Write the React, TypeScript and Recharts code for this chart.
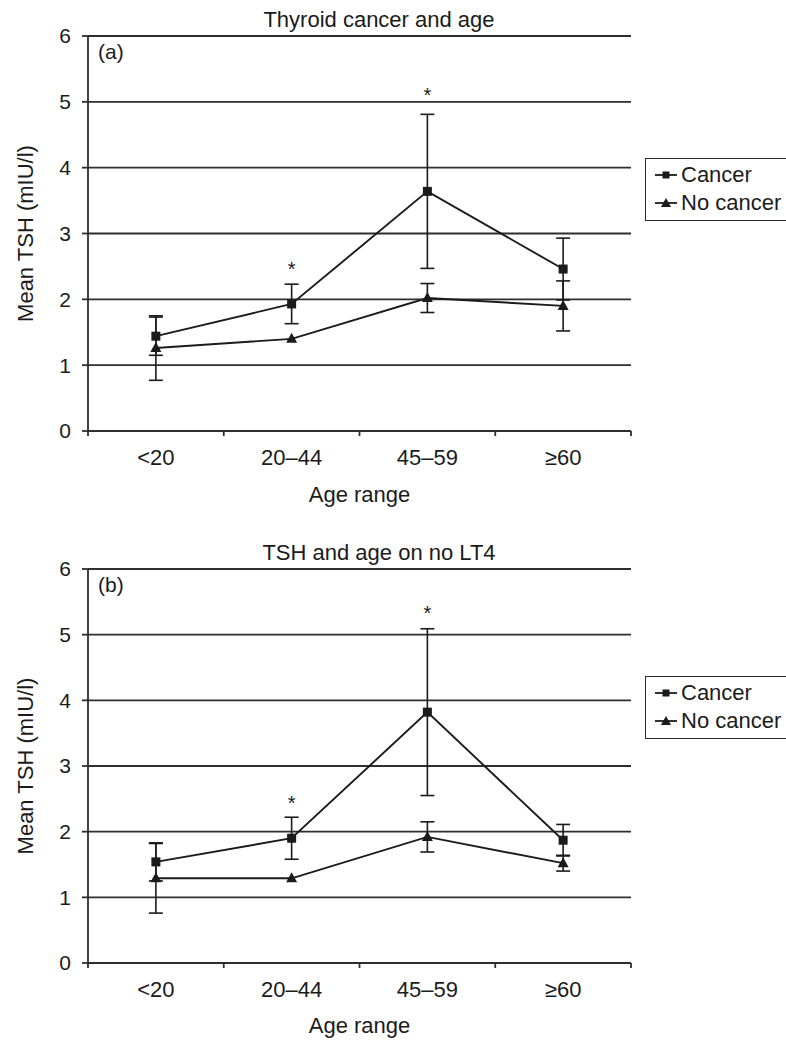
import React from "react";
import { CartesianGrid, ComposedChart, ErrorBar, Legend, Line, XAxis, YAxis } from "recharts";

const FONT = '"Liberation Sans", Arial, Helvetica, sans-serif';
const INK = "#1b1b1b";
const RULE = "#2e2e2e";

const ageRanges = ["<20", "20–44", "45–59", "≥60"];
const tshTicks = [0, 1, 2, 3, 4, 5, 6];

// (a) Thyroid cancer and age
const cancerA = [1.44, 1.93, 3.64, 2.46];
const cancerErrA = [0.29, 0.3, 1.17, 0.47];
const noCancerA = [1.26, 1.4, 2.02, 1.9];
const noCancerErrA = [0.49, 0, 0.22, 0.38];
const starA = [null, 2.52, 5.16, null];

// (b) TSH and age on no LT4
const cancerB = [1.54, 1.9, 3.82, 1.87];
const cancerErrB = [0.29, 0.32, 1.27, 0.24];
const noCancerB = [1.29, 1.29, 1.92, 1.52];
const noCancerErrB = [0.53, 0, 0.23, 0.12];
const starB = [null, 2.5, 5.39, null];

const PLOT_W = 543;
const BAND = PLOT_W / ageRanges.length;
const X_TICK_SIZE = 5;
const X_TICK_MARGIN = 13;

function buildRows(cancer: number[], cancerErr: number[], noCancer: number[], noCancerErr: number[], star: (number | null)[]) {
  return ageRanges.map((age, i) => ({
    age,
    cancer: cancer[i],
    cancerErr: cancerErr[i],
    noCancer: noCancer[i],
    noCancerErr: noCancerErr[i],
    star: star[i],
  }));
}

const rowsA = buildRows(cancerA, cancerErrA, noCancerA, noCancerErrA, starA);
const rowsB = buildRows(cancerB, cancerErrB, noCancerB, noCancerErrB, starB);

// excel-style ticks sit on the category boundaries, not under the labels
function AgeTick(props: any) {
  const { x, y, payload, index, visibleTicksCount } = props;
  const axisY = y - X_TICK_SIZE - X_TICK_MARGIN;
  const left = x - BAND / 2;
  const right = x + BAND / 2;
  return (
    <g>
      <line x1={left} x2={left} y1={axisY} y2={axisY + X_TICK_SIZE} stroke={RULE} strokeWidth={1.8} />
      {index === visibleTicksCount - 1 && (
        <line x1={right} x2={right} y1={axisY} y2={axisY + X_TICK_SIZE} stroke={RULE} strokeWidth={1.8} />
      )}
      <text x={x} y={y} dy="0.71em" textAnchor="middle" fontSize={22} fill={INK} fontFamily={FONT}>
        {payload.value}
      </text>
    </g>
  );
}

function SquareDot(p: any) {
  if (p.cx == null || p.cy == null) return <g key={p.key} />;
  return <rect key={p.key} x={p.cx - 4.5} y={p.cy - 4.5} width={9} height={9} fill={INK} />;
}

function TriangleDot(p: any) {
  if (p.cx == null || p.cy == null) return <g key={p.key} />;
  const { cx, cy } = p;
  return <polygon key={p.key} points={`${cx},${cy - 6} ${cx + 5.5},${cy + 4} ${cx - 5.5},${cy + 4}`} fill={INK} />;
}

function StarDot(p: any) {
  if (p.cy == null || p.payload?.star == null) return <g key={p.key} />;
  return (
    <text key={p.key} x={p.cx} y={p.cy + 11} textAnchor="middle" fontSize={20} fill={INK} fontFamily={FONT}>
      *
    </text>
  );
}

function LegendIcon({ shape }: { shape: string }) {
  return (
    <svg width={22} height={14} style={{ display: "block" }}>
      <line x1={0} x2={22} y1={7} y2={7} stroke={INK} strokeWidth={1.8} />
      {shape === "square" ? (
        <rect x={7.5} y={3.5} width={7} height={7} fill={INK} />
      ) : (
        <polygon points="11,2 16,11 6,11" fill={INK} />
      )}
    </svg>
  );
}

function LegendBox(props: any) {
  const items = (props.payload || []).filter((e: any) => e.type !== "none");
  return (
    <div
      style={{
        marginLeft: 14,
        width: 141,
        boxSizing: "border-box",
        border: `1.8px solid ${RULE}`,
        borderRight: "none",
        padding: "2px 0 3px 9px",
        fontFamily: FONT,
        fontSize: 22,
        lineHeight: "28px",
        color: INK,
        whiteSpace: "nowrap",
        background: "#fff",
      }}
    >
      {items.map((e: any) => (
        <div key={e.value} style={{ display: "flex", alignItems: "center" }}>
          <LegendIcon shape={e.dataKey === "cancer" ? "square" : "triangle"} />
          <span style={{ marginLeft: 4 }}>{e.value}</span>
        </div>
      ))}
    </div>
  );
}

type PanelProps = {
  title: string;
  tag: string;
  rows: ReturnType<typeof buildRows>;
  top: number;
  height: number;
  bottomMargin: number;
  xAxisHeight: number;
  legendTop: number;
};

function Panel({ title, tag, rows, top, height, bottomMargin, xAxisHeight, legendTop }: PanelProps) {
  return (
    <div style={{ position: "absolute", left: 0, top }}>
      <ComposedChart width={786} height={height} data={rows} margin={{ top: 36, right: 0, bottom: bottomMargin, left: 0 }}>
        <CartesianGrid vertical={false} stroke={RULE} strokeWidth={1.8} />
        <XAxis
          dataKey="age"
          scale="band"
          height={xAxisHeight}
          tickLine={false}
          tickSize={X_TICK_SIZE}
          tickMargin={X_TICK_MARGIN}
          tick={<AgeTick />}
          axisLine={{ stroke: RULE, strokeWidth: 1.8 }}
          label={{ value: "Age range", position: "insideBottom", offset: 9, fontSize: 22, fill: INK, fontFamily: FONT }}
        />
        <YAxis
          domain={[0, 6]}
          ticks={tshTicks}
          width={88}
          tickSize={6}
          tickMargin={11}
          tick={{ fontSize: 21, fill: INK, fontFamily: FONT }}
          tickLine={{ stroke: RULE, strokeWidth: 1.8 }}
          axisLine={{ stroke: RULE, strokeWidth: 1.8 }}
          label={{
            value: "Mean TSH (mIU/l)",
            angle: -90,
            position: "insideLeft",
            offset: 25,
            fontSize: 22,
            fill: INK,
            fontFamily: FONT,
            style: { textAnchor: "middle" },
          }}
        />
        <YAxis
          yAxisId="frame"
          orientation="right"
          width={0}
          domain={[0, 6]}
          tick={false}
          tickLine={false}
          axisLine={{ stroke: RULE, strokeWidth: 1.8 }}
        />
        <Legend
          layout="vertical"
          align="right"
          verticalAlign="top"
          width={155}
          wrapperStyle={{ top: legendTop }}
          content={<LegendBox />}
        />
        <Line
          dataKey="cancer"
          name="Cancer"
          stroke={INK}
          strokeWidth={1.9}
          dot={SquareDot}
          activeDot={false}
          isAnimationActive={false}
        >
          <ErrorBar dataKey="cancerErr" width={7} stroke={INK} strokeWidth={1.6} />
        </Line>
        <Line
          dataKey="noCancer"
          name="No cancer"
          stroke={INK}
          strokeWidth={1.9}
          dot={TriangleDot}
          activeDot={false}
          isAnimationActive={false}
        >
          <ErrorBar dataKey="noCancerErr" width={7} stroke={INK} strokeWidth={1.6} />
        </Line>
        <Line
          dataKey="star"
          stroke="none"
          legendType="none"
          dot={StarDot}
          activeDot={false}
          isAnimationActive={false}
        />
        <text x={379} y={27} textAnchor="middle" fontSize={22} fill={INK} fontFamily={FONT}>
          {title}
        </text>
        <text x={98} y={59} fontSize={21} fill={INK} fontFamily={FONT}>
          {tag}
        </text>
      </ComposedChart>
    </div>
  );
}

export default function App() {
  return (
    <div style={{ position: "absolute", left: 0, top: 0, width: 786, height: 1042, background: "#fff", fontFamily: FONT }}>
      <Panel
        title="Thyroid cancer and age"
        tag="(a)"
        rows={rowsA}
        top={0}
        height={520}
        bottomMargin={9}
        xAxisHeight={80}
        legendTop={158}
      />
      <Panel
        title="TSH and age on no LT4"
        tag="(b)"
        rows={rowsB}
        top={533}
        height={509}
        bottomMargin={0}
        xAxisHeight={79}
        legendTop={143}
      />
    </div>
  );
}
